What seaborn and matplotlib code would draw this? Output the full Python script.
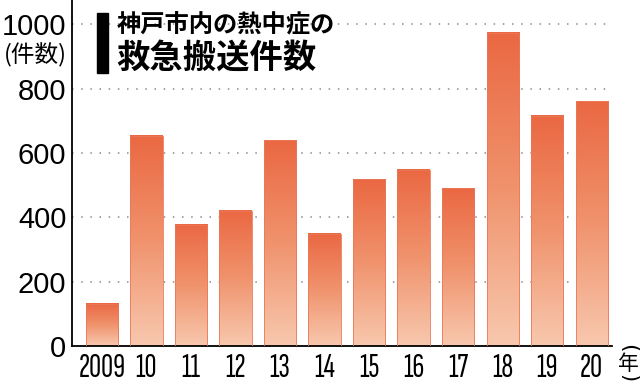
import matplotlib
matplotlib.use('Agg')
import matplotlib.pyplot as plt
import seaborn as sns
import numpy as np
import pandas as pd
from matplotlib.colors import LinearSegmentedColormap
from matplotlib.patches import Rectangle

sns.set_theme(style='white')
plt.rcParams['font.family'] = ['Noto Sans CJK JP', 'DejaVu Sans']
plt.rcParams['text.color'] = 'black'
plt.rcParams['xtick.labelcolor'] = 'black'
plt.rcParams['ytick.labelcolor'] = 'black'

# data
years = ['2009', '10', '11', '12', '13', '14', '15', '16', '17', '18', '19', '20']
counts = [132, 653, 376, 420, 640, 349, 518, 547, 490, 974, 715, 761]
yticks = [0, 200, 400, 600, 800, 1000]

df = pd.DataFrame({'year': years, 'count': counts})

fig = plt.figure(figsize=(6.4, 3.84), dpi=100)
ax = fig.add_axes([72/640, 1 - 346/384, 540/640, 346/384])

sns.barplot(data=df, x='year', y='count', color='#EE7A55', width=0.72,
            edgecolor='#E8795A', linewidth=0.6, ax=ax, zorder=3)

# vertical gradient inside each bar
cmap = LinearSegmentedColormap.from_list('bar', ['#F8C8AE', '#F0936D', '#EA6842'])
grad = np.linspace(0, 1, 256).reshape(-1, 1)
for p in ax.patches:
    x0, w, h = p.get_x(), p.get_width(), p.get_height()
    p.set_facecolor('none')
    ax.imshow(grad, extent=[x0, x0 + w, 0, h], origin='lower', aspect='auto',
              cmap=cmap, zorder=2.5)

ax.set_xlim(-0.674, 11.46)
ax.set_ylim(0, 1075)
ax.set_aspect('auto')

# dotted grid lines
for v in yticks[1:]:
    ax.axhline(v, color='#8a8a8a', linestyle=(0, (1, 5)), linewidth=1.1, zorder=1)

for s in ['top', 'right']:
    ax.spines[s].set_visible(False)
for s in ['left', 'bottom']:
    ax.spines[s].set_color('black')
    ax.spines[s].set_linewidth(1.3)

ax.set_yticks(yticks)
ax.set_yticklabels([str(v) for v in yticks], fontsize=21,
                   family=['Liberation Sans', 'DejaVu Sans'])
ax.tick_params(axis='y', direction='in', length=7, width=1.3, color='black',
               pad=4, labelcolor='black')
ax.tick_params(axis='x', length=0, pad=5, labelcolor='black')
for lab in ax.get_xticklabels():
    lab.set_family(['Sofia Sans Extra Condensed', 'DejaVu Sans'])
    lab.set_fontsize(24)
ax.set_xlabel('')
ax.set_ylabel('')

# y unit label
fig.text(35/640, 1 - 55/384, '(件数)', ha='center', va='center', fontsize=17)

# title with black bar
fig.add_artist(Rectangle((97/640, 1 - 73/384), 11/640, 60/384,
                         transform=fig.transFigure, color='black'))
fig.text(117/640, 1 - 25/384, '神戸市内の熱中症の', ha='left', va='center',
         fontsize=17.5, fontweight='bold')
fig.text(116/640, 1 - 58/384, '救急搬送件数', ha='left', va='center',
         fontsize=24, fontweight='bold')

# year mark at right end
fig.text(628/640, 1 - 364/384, '年', ha='center', va='center', fontsize=15)
fig.text(628/640, 1 - 348/384, '(', ha='center', va='center', fontsize=16,
         rotation=-90, family='DejaVu Sans')
fig.text(628/640, 1 - 378/384, ')', ha='center', va='center', fontsize=15,
         rotation=-90, family='DejaVu Sans')

fig.savefig('out.png', dpi=100)
